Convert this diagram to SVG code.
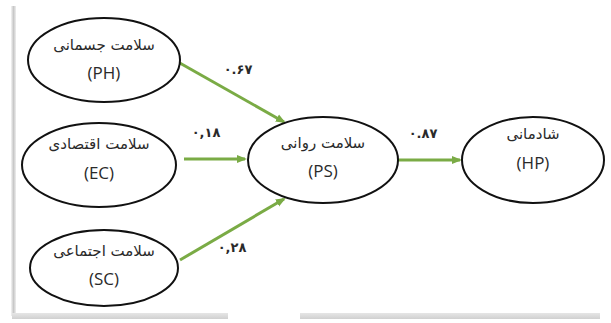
<svg xmlns="http://www.w3.org/2000/svg" width="611" height="323" viewBox="0 0 611 323">
<defs>
<marker id="ah" markerWidth="10" markerHeight="10" refX="8" refY="5" orient="auto" markerUnits="userSpaceOnUse">
<path d="M0,1 L10,5 L0,9 Z" fill="#7aab45"/>
</marker>
<linearGradient id="lg" x1="0" y1="0" x2="1" y2="0">
<stop offset="0" stop-color="#f4f4f4"/>
<stop offset="0.5" stop-color="#c8c8c8"/>
<stop offset="1" stop-color="#eeeeee"/>
</linearGradient>
<linearGradient id="bg" x1="0" y1="0" x2="0" y2="1">
<stop offset="0" stop-color="#e6e6e6"/>
<stop offset="1" stop-color="#d0d0d0"/>
</linearGradient>
</defs>
<style>
.node ellipse{fill:#fff;stroke:#111;stroke-width:2}
.fa{font-family:"DejaVu Sans",sans-serif;font-size:15px;fill:#2a2a2a;text-anchor:middle}
.en{font-family:"Open Sans","Liberation Sans",sans-serif;font-size:17px;fill:#2a2a2a;text-anchor:middle}
.lbl{font-family:"DejaVu Sans",sans-serif;font-size:13px;font-weight:bold;fill:#2a2a2a;text-anchor:middle}
.edge{stroke:#7aab45;stroke-width:3;fill:none;marker-end:url(#ah)}
</style>
<rect x="0" y="0" width="611" height="323" fill="#fff"/>
<rect x="11" y="6" width="5" height="310" fill="url(#lg)"/>
<rect x="12" y="313" width="216" height="6" fill="url(#bg)"/>
<rect x="300" y="313" width="300" height="6" fill="url(#bg)"/>
<g id="connectors">
<line class="edge" x1="178" y1="62" x2="284" y2="122"/>
<line class="edge" x1="184" y1="159" x2="245" y2="159"/>
<line class="edge" x1="180" y1="260" x2="284" y2="199"/>
<line class="edge" x1="398" y1="160" x2="460" y2="160"/>
<text class="lbl" x="238" y="74" direction="ltr">۰.۶۷</text>
<text class="lbl" x="206" y="137" direction="ltr">۰,۱۸</text>
<text class="lbl" x="232" y="252" direction="ltr">۰,۲۸</text>
<text class="lbl" x="423" y="138" direction="ltr">۰.۸۷</text>
</g>
<g id="PH" class="node">
<ellipse cx="104" cy="60" rx="76" ry="42"/>
<text class="fa" x="104" y="50">سلامت جسمانی</text>
<text class="en" x="104" y="79">(PH)</text>
</g>
<g id="EC" class="node">
<ellipse cx="99" cy="165" rx="77" ry="42"/>
<text class="fa" x="99" y="149">سلامت اقتصادی</text>
<text class="en" x="99" y="179">(EC)</text>
</g>
<g id="SC" class="node">
<ellipse cx="104" cy="268" rx="74" ry="38"/>
<text class="fa" x="104" y="256">سلامت اجتماعی</text>
<text class="en" x="104" y="285">(SC)</text>
</g>
<g id="PS" class="node">
<ellipse cx="323" cy="160" rx="75" ry="43"/>
<text class="fa" x="323" y="148">سلامت روانی</text>
<text class="en" x="323" y="177">(PS)</text>
</g>
<g id="HP" class="node">
<ellipse cx="533" cy="160" rx="71" ry="43"/>
<text class="fa" x="533" y="139">شادمانی</text>
<text class="en" x="533" y="169">(HP)</text>
</g>
</svg>
